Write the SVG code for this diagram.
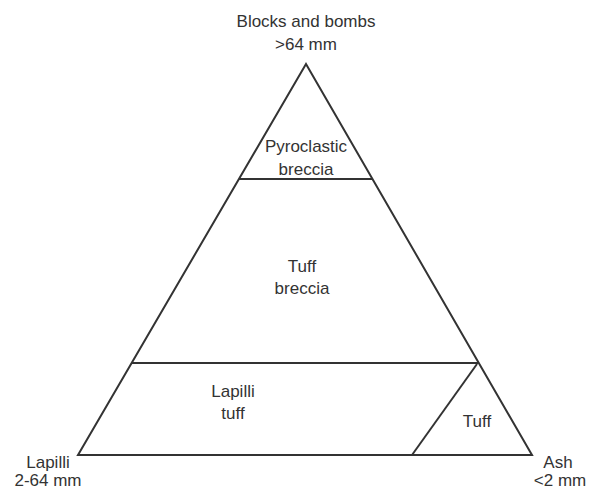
<svg xmlns="http://www.w3.org/2000/svg" width="592" height="495" viewBox="0 0 592 495">
<style>
text{font-family:"Liberation Sans",Arial,sans-serif;font-size:17px;fill:#333;text-anchor:middle}
.ln{stroke:#333;stroke-width:2;fill:none;stroke-linejoin:miter}
</style>
<rect width="592" height="495" fill="#fff"/>
<g id="edges">
<polygon class="ln" points="306,64 78,455 532,455"/>
<line class="ln" x1="239" y1="179" x2="372" y2="179"/>
<line class="ln" x1="132" y1="363" x2="478" y2="363"/>
<line class="ln" x1="477" y1="364" x2="412" y2="455"/>
</g>
<g id="apex"><text x="306" y="27">Blocks and bombs</text><text x="306" y="50">&gt;64 mm</text></g>
<g id="pyroclastic-breccia"><text x="306" y="152">Pyroclastic</text><text x="306" y="175">breccia</text></g>
<g id="tuff-breccia"><text x="302" y="272">Tuff</text><text x="302" y="294">breccia</text></g>
<g id="lapilli-tuff"><text x="233" y="397">Lapilli</text><text x="233" y="419">tuff</text></g>
<g id="tuff"><text x="477" y="427">Tuff</text></g>
<g id="lapilli"><text x="48" y="468">Lapilli</text><text x="48" y="486">2-64 mm</text></g>
<g id="ash"><text x="558" y="468">Ash</text><text x="560" y="486">&lt;2 mm</text></g>
</svg>
